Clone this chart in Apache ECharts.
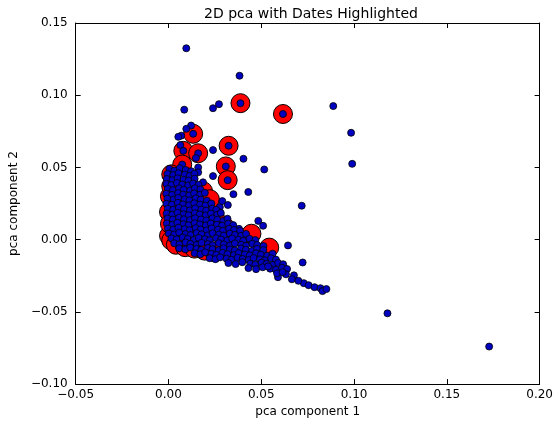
<!DOCTYPE html>
<html>
<head>
<meta charset="utf-8">
<script src="https://cdn.jsdelivr.net/npm/echarts@6/dist/echarts.min.js"></script>
<style>html,body{margin:0;padding:0;background:#fff}#c{width:556px;height:423px}</style>
</head>
<body>
<div id="c"></div>
<script>
const titleText = '2D pca with Dates Highlighted';
const xName = 'pca component 1';
const yName = 'pca component 2';
const xTicks = [-0.05, 0.00, 0.05, 0.10, 0.15, 0.20];
const yTicks = [-0.10, -0.05, 0.00, 0.05, 0.10, 0.15];

// highlighted dates (big red markers)
const redPoints = [
[0.0388,0.0945],[0.0617,0.0870],[0.0133,0.0733],[0.0324,0.0650],[0.0309,0.0507],[0.0319,0.0412],
[0.0080,0.0615],[0.0160,0.0598],[0.0074,0.0520],[0.0186,0.0336],[0.0223,0.0280],[0.0303,0.0089],
[0.0346,0.0027],[0.0447,0.0041],[0.0543,-0.0055],[0.0008,0.0300],[0.0003,0.0192],[0.0003,0.0027],
[0.0015,0.0452],[0.0015,0.0370],[0.0008,0.0110],[0.0015,-0.0005],[0.0040,-0.0035],[0.0090,-0.0052],
[0.0140,-0.0062],[0.0195,-0.0076],[0.0250,-0.0088],[0.0250,0.0155],[0.0050,0.0200],[0.0100,0.0100]
];

// all points (blue)
const bluePoints = [
[0.0096,0.1325],[0.0383,0.1135],[0.0240,0.0910],[0.0272,0.0938],[0.0085,0.0900],[0.0388,0.0945],[0.0617,0.0870],
[0.0888,0.0925],[0.0984,0.0740],[0.0990,0.0525],[0.0718,0.0235],[0.1180,-0.0510],[0.1728,-0.0740],
[0.0133,0.0733],[0.0122,0.0790],[0.0096,0.0767],[0.0069,0.0720],[0.0053,0.0712],[0.0324,0.0650],[0.0064,0.0655],
[0.0240,0.0620],[0.0404,0.0560],[0.0516,0.0486],[0.0309,0.0507],[0.0319,0.0412],[0.0080,0.0615],[0.0160,0.0598],
[0.0148,0.0565],[0.0074,0.0520],[0.0160,0.0500],[0.0186,0.0397],[0.0240,0.0440],[0.0160,0.0466],[0.0350,0.0315],
[0.0430,0.0330],[0.0277,0.0226],[0.0290,0.0267],[0.0320,0.0240],[0.0277,0.0190],[0.0380,0.0075],[0.0484,0.0130],
[0.0510,0.0096],[0.0644,-0.0040],[0.0723,-0.0158],
[0.0005,0.0490],[0.0032,0.0478],[0.0061,0.0495],[0.0093,0.0482],[0.0122,0.0474],
[-0.0006,0.0455],[0.0026,0.0447],[0.0054,0.0460],[0.0088,0.0450],[0.0114,0.0441],[0.0140,0.0456],
[-0.0009,0.0420],[0.0021,0.0412],[0.0049,0.0425],[0.0082,0.0415],[0.0108,0.0409],[0.0141,0.0422],
[-0.0011,0.0386],[0.0016,0.0379],[0.0046,0.0392],[0.0074,0.0381],[0.0106,0.0375],[0.0133,0.0389],[0.0162,0.0380],
[-0.0004,0.0351],[0.0024,0.0343],[0.0057,0.0355],[0.0083,0.0346],[0.0117,0.0340],[0.0143,0.0356],[0.0172,0.0348],
[-0.0012,0.0318],[0.0019,0.0310],[0.0052,0.0322],[0.0079,0.0312],[0.0112,0.0306],[0.0138,0.0320],[0.0171,0.0311],[0.0196,0.0324],
[-0.0006,0.0284],[0.0027,0.0276],[0.0053,0.0289],[0.0087,0.0279],[0.0113,0.0272],[0.0147,0.0286],[0.0174,0.0277],[0.0207,0.0270],
[-0.0011,0.0249],[0.0018,0.0242],[0.0051,0.0255],[0.0078,0.0244],[0.0111,0.0238],[0.0139,0.0252],[0.0171,0.0243],[0.0199,0.0236],[0.0231,0.0250],
[-0.0004,0.0214],[0.0026,0.0207],[0.0056,0.0220],[0.0084,0.0210],[0.0116,0.0203],[0.0144,0.0217],[0.0177,0.0208],[0.0203,0.0201],[0.0236,0.0215],[0.0257,0.0206],
[-0.0010,0.0181],[0.0021,0.0173],[0.0049,0.0186],[0.0081,0.0176],[0.0109,0.0169],[0.0142,0.0183],[0.0168,0.0174],[0.0201,0.0168],[0.0229,0.0181],[0.0262,0.0172],[0.0282,0.0185],
[-0.0005,0.0146],[0.0024,0.0139],[0.0057,0.0152],[0.0083,0.0141],[0.0116,0.0135],[0.0143,0.0149],[0.0176,0.0140],[0.0204,0.0133],[0.0237,0.0147],[0.0263,0.0138],[0.0296,0.0131],[0.0318,0.0145],
[-0.0009,0.0112],[0.0022,0.0104],[0.0048,0.0117],[0.0081,0.0107],[0.0108,0.0100],[0.0141,0.0114],[0.0169,0.0105],[0.0202,0.0099],[0.0228,0.0112],[0.0261,0.0103],[0.0289,0.0097],[0.0322,0.0110],[0.0349,0.0101],
[-0.0003,0.0077],[0.0026,0.0070],[0.0054,0.0083],[0.0087,0.0073],[0.0114,0.0066],[0.0147,0.0080],[0.0173,0.0071],[0.0206,0.0064],[0.0233,0.0078],[0.0267,0.0069],[0.0293,0.0062],[0.0327,0.0076],[0.0353,0.0067],[0.0386,0.0060],
[0.0002,0.0043],[0.0031,0.0036],[0.0058,0.0049],[0.0092,0.0039],[0.0119,0.0032],[0.0152,0.0046],[0.0178,0.0037],[0.0212,0.0030],[0.0238,0.0044],[0.0272,0.0035],[0.0298,0.0028],[0.0331,0.0042],[0.0358,0.0033],[0.0392,0.0027],[0.0418,0.0040],
[0.0016,0.0009],[0.0044,0.0002],[0.0077,0.0015],[0.0103,0.0005],[0.0137,-0.0002],[0.0163,0.0012],[0.0197,0.0003],[0.0223,-0.0004],[0.0257,0.0010],[0.0283,0.0001],[0.0317,-0.0006],[0.0343,0.0008],[0.0377,-0.0001],[0.0403,-0.0008],[0.0437,0.0006],[0.0468,-0.0003],
[0.0031,-0.0025],[0.0059,-0.0032],[0.0092,-0.0019],[0.0118,-0.0029],[0.0152,-0.0036],[0.0178,-0.0022],[0.0212,-0.0031],[0.0238,-0.0038],[0.0272,-0.0024],[0.0298,-0.0033],[0.0332,-0.0040],[0.0358,-0.0026],[0.0392,-0.0035],[0.0418,-0.0042],[0.0452,-0.0028],[0.0478,-0.0037],[0.0512,-0.0044],
[0.0058,-0.0060],[0.0091,-0.0067],[0.0117,-0.0054],[0.0151,-0.0064],[0.0177,-0.0071],[0.0211,-0.0057],[0.0237,-0.0066],[0.0271,-0.0073],[0.0297,-0.0059],[0.0331,-0.0068],[0.0357,-0.0075],[0.0391,-0.0061],[0.0417,-0.0070],[0.0451,-0.0077],[0.0477,-0.0063],[0.0511,-0.0072],
[0.0141,-0.0094],[0.0172,-0.0101],[0.0198,-0.0088],[0.0232,-0.0098],[0.0258,-0.0105],[0.0292,-0.0091],[0.0318,-0.0100],[0.0352,-0.0107],[0.0378,-0.0093],[0.0412,-0.0102],[0.0438,-0.0109],[0.0472,-0.0095],[0.0498,-0.0104],[0.0532,-0.0111],[0.0561,-0.0097],
[0.0222,-0.0128],[0.0253,-0.0135],[0.0279,-0.0122],[0.0313,-0.0132],[0.0339,-0.0139],[0.0373,-0.0125],[0.0399,-0.0134],[0.0433,-0.0141],[0.0459,-0.0127],[0.0493,-0.0136],[0.0519,-0.0143],[0.0553,-0.0129],[0.0579,-0.0138],
[0.0323,-0.0162],[0.0362,-0.0169],[0.0398,-0.0156],[0.0441,-0.0166],[0.0468,-0.0173],[0.0502,-0.0159],[0.0528,-0.0168],[0.0562,-0.0175],[0.0591,-0.0161],[0.0618,-0.0170],
[0.0431,-0.0197],[0.0472,-0.0204],[0.0508,-0.0191],[0.0548,-0.0201],[0.0579,-0.0208],[0.0612,-0.0194],[0.0639,-0.0203],
[0.0590,-0.0260],[0.0585,-0.0233],[0.0537,-0.0185],[0.0633,-0.0240],[0.0676,-0.0247],[0.0665,-0.0274],[0.0729,-0.0301],
[0.0755,-0.0315],[0.0787,-0.0329],[0.0819,-0.0336],[0.0830,-0.0356],[0.0851,-0.0342],[0.0700,-0.0285],[0.0615,-0.0225]
];

const fmt = v => (v < -1e-9 ? '\u2212' : '') + Math.abs(v).toFixed(2);
const FONT = 'DejaVu Sans';
const xMin = xTicks[0], xMax = xTicks[xTicks.length-1], xStep = xTicks[1]-xTicks[0];
const yMin = yTicks[0], yMax = yTicks[yTicks.length-1], yStep = yTicks[1]-yTicks[0];

const axisCommon = {
  type: 'value', splitLine: {show: false},
  axisLine: {show: true, onZero: false, lineStyle: {color: '#000', width: 1}},
  axisTick: {show: true, inside: true, length: 5, lineStyle: {color: '#000'}}
};

const chart = echarts.init(document.getElementById('c'), null, {renderer: 'canvas'});
chart.setOption({
  animation: false,
  backgroundColor: '#fff',
  title: {text: titleText, left: 306, top: 2, textAlign: 'center',
    textStyle: {fontFamily: FONT, fontSize: 14, fontWeight: 'normal', color: '#000'}},
  grid: {left: 71, right: 14, top: 23, bottom: 35, containLabel: false},
  xAxis: [
    Object.assign({}, axisCommon, {min: xMin, max: xMax, interval: xStep, position: 'bottom',
      name: xName, nameLocation: 'middle', nameGap: 20,
      nameTextStyle: {fontFamily: FONT, fontSize: 12, color: '#000'},
      axisLabel: {formatter: fmt, margin: 5, fontFamily: FONT, fontSize: 12, color: '#000',
        showMinLabel: true, showMaxLabel: true}}),
    Object.assign({}, axisCommon, {min: xMin, max: xMax, interval: xStep, position: 'top',
      axisLabel: {show: false}})
  ],
  yAxis: [
    Object.assign({}, axisCommon, {min: yMin, max: yMax, interval: yStep, position: 'left',
      name: yName, nameLocation: 'middle', nameGap: 42,
      nameTextStyle: {fontFamily: FONT, fontSize: 12, color: '#000'},
      axisLabel: {formatter: fmt, margin: 8, fontFamily: FONT, fontSize: 12, color: '#000',
        showMinLabel: true, showMaxLabel: true}}),
    Object.assign({}, axisCommon, {min: yMin, max: yMax, interval: yStep, position: 'right',
      axisLabel: {show: false}})
  ],
  series: [
    {type: 'scatter', xAxisIndex: 0, yAxisIndex: 0, data: redPoints, symbolSize: 19,
      itemStyle: {color: '#ff0000', borderColor: '#000', borderWidth: 1, opacity: 1}, z: 2, silent: true},
    {type: 'scatter', xAxisIndex: 0, yAxisIndex: 0, data: bluePoints, symbolSize: 7,
      itemStyle: {color: '#0000c0', borderColor: '#000', borderWidth: 0.8, opacity: 1}, z: 3, silent: true}
  ]
});
</script>
</body>
</html>
